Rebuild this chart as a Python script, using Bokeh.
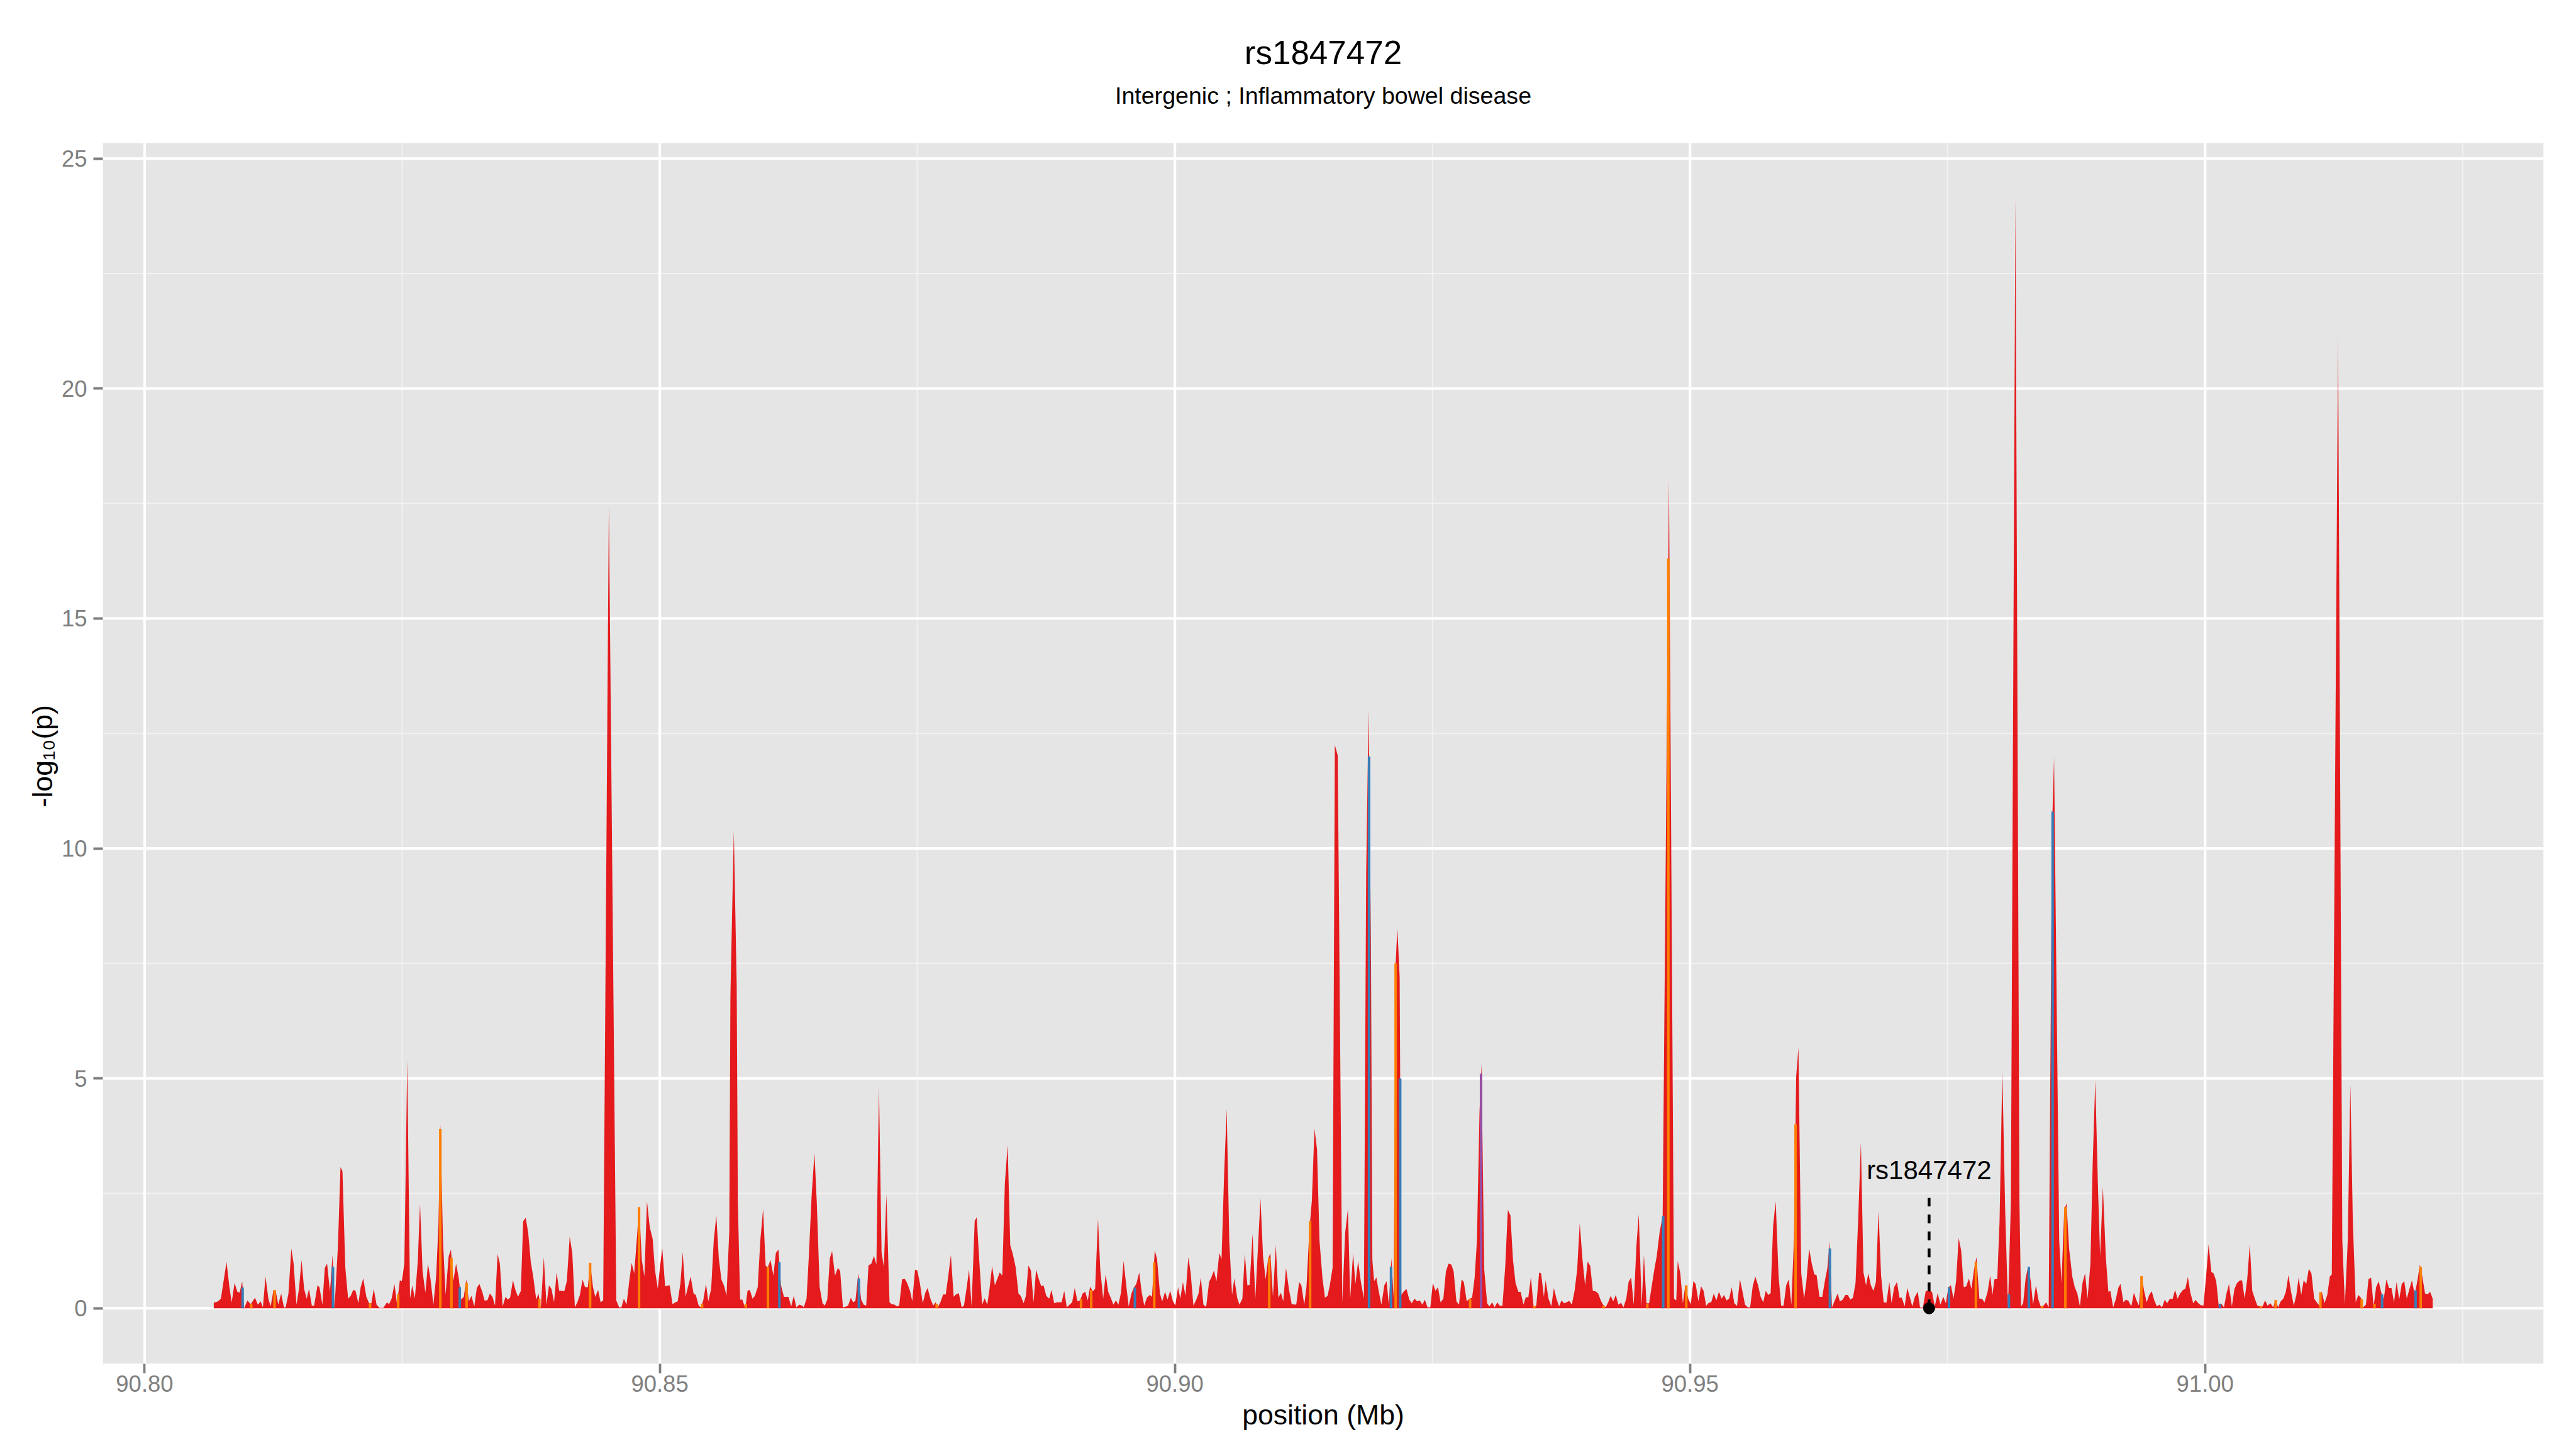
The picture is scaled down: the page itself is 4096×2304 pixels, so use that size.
from bokeh.plotting import figure
from bokeh.models import Range1d, FixedTicker, NumeralTickFormatter, ColumnDataSource
from bokeh.embed import file_html
from bokeh.resources import INLINE
from bokeh.core.properties import value

# ---------------- data ----------------
title_text = "rs1847472"
subtitle_text = "Intergenic ; Inflammatory bowel disease"
x_label = "position (Mb)"
y_label = "-log\u2081\u2080(p)"

x_ticks = [90.80, 90.85, 90.90, 90.95, 91.00]
x_minor = [90.825, 90.875, 90.925, 90.975, 91.025]
y_ticks = [0, 5, 10, 15, 20, 25]
y_minor = [2.5, 7.5, 12.5, 17.5, 22.5]

position_mb = [
    90.80671, 90.80713, 90.80740, 90.80795, 90.80823, 90.80845, 90.80873, 90.80900, 90.80922, 90.80947,
    90.80966, 90.80997, 90.81030, 90.81071, 90.81099, 90.81126, 90.81148, 90.81173, 90.81201, 90.81223,
    90.81250, 90.81270, 90.81297, 90.81325, 90.81352, 90.81369, 90.81396, 90.81424, 90.81446, 90.81474,
    90.81498, 90.81523, 90.81548, 90.81573, 90.81595, 90.81623, 90.81645, 90.81678, 90.81697, 90.81725,
    90.81749, 90.81771, 90.81799, 90.81824, 90.81843, 90.81876, 90.81901, 90.81920, 90.81948, 90.81975,
    90.82000, 90.82025, 90.82047, 90.82075, 90.82097, 90.82122, 90.82152, 90.82179, 90.82201, 90.82224,
    90.82251, 90.82279, 90.82317, 90.82353, 90.82372, 90.82397, 90.82425, 90.82450, 90.82477, 90.82496,
    90.82521, 90.82549, 90.82576, 90.82598, 90.82623, 90.82651, 90.82673, 90.82698, 90.82725, 90.82750,
    90.82775, 90.82803, 90.82830, 90.82852, 90.82871, 90.82896, 90.82921, 90.82951, 90.82973, 90.82996,
    90.83023, 90.83048, 90.83073, 90.83098, 90.83122, 90.83147, 90.83172, 90.83200, 90.83224, 90.83249,
    90.83277, 90.83299, 90.83326, 90.83351, 90.83376, 90.83401, 90.83426, 90.83448, 90.83475, 90.83503,
    90.83525, 90.83547, 90.83575, 90.83599, 90.83624, 90.83652, 90.83674, 90.83699, 90.83723, 90.83748,
    90.83773, 90.83801, 90.83823, 90.83845, 90.83875, 90.83900, 90.83925, 90.83949, 90.83974, 90.83999,
    90.84024, 90.84049, 90.84073, 90.84098, 90.84126, 90.84151, 90.84176, 90.84200, 90.84225, 90.84250,
    90.84275, 90.84302, 90.84324, 90.84352, 90.84374, 90.84402, 90.84426, 90.84451, 90.84506, 90.84578,
    90.84606, 90.84628, 90.84652, 90.84677, 90.84702, 90.84727, 90.84752, 90.84779, 90.84799, 90.84826,
    90.84851, 90.84876, 90.84903, 90.84931,
    90.84953, 90.84981, 90.85003, 90.85025, 90.85052, 90.85096, 90.85124, 90.85152, 90.85174, 90.85201,
    90.85223, 90.85251, 90.85273, 90.85300, 90.85328, 90.85350, 90.85378, 90.85400, 90.85422, 90.85449,
    90.85471, 90.85499, 90.85524, 90.85549, 90.85573, 90.85598, 90.85626, 90.85648, 90.85675, 90.85686,
    90.85719, 90.85747, 90.85758, 90.85780, 90.85802, 90.85830, 90.85852, 90.85874, 90.85901, 90.85923,
    90.85951, 90.85976, 90.86003, 90.86028, 90.86050, 90.86075, 90.86103, 90.86127, 90.86152, 90.86177,
    90.86205, 90.86249, 90.86276, 90.86301, 90.86326, 90.86354, 90.86381, 90.86398, 90.86425, 90.86447,
    90.86475, 90.86502, 90.86524, 90.86552, 90.86580, 90.86602, 90.86626, 90.86651, 90.86673, 90.86701,
    90.86729, 90.86751, 90.86778, 90.86800, 90.86828, 90.86855, 90.86877, 90.86899, 90.86927, 90.86955,
    90.86979, 90.87004, 90.87026, 90.87054, 90.87079, 90.87103, 90.87128, 90.87153, 90.87175, 90.87200,
    90.87230, 90.87252, 90.87280, 90.87302, 90.87324, 90.87352, 90.87379, 90.87401, 90.87429, 90.87451,
    90.87478, 90.87500, 90.87525, 90.87553, 90.87578, 90.87600, 90.87627, 90.87655, 90.87677, 90.87699,
    90.87724, 90.87751, 90.87776, 90.87801, 90.87826, 90.87853, 90.87875, 90.87903, 90.87931, 90.87953,
    90.87980, 90.88002, 90.88027, 90.88057, 90.88077, 90.88101, 90.88129, 90.88154, 90.88179, 90.88201,
    90.88226, 90.88253, 90.88275, 90.88300, 90.88325, 90.88350, 90.88377, 90.88402, 90.88427, 90.88454,
    90.88482, 90.88504, 90.88532, 90.88554, 90.88578, 90.88603, 90.88628, 90.88653, 90.88680, 90.88703,
    90.88725, 90.88752, 90.88780, 90.88802, 90.88829, 90.88854, 90.88879, 90.88901, 90.88926, 90.88951,
    90.88978, 90.89003, 90.89028, 90.89055, 90.89080, 90.89105, 90.89130, 90.89155, 90.89177, 90.89204,
    90.89226, 90.89254,
    90.89276, 90.89304, 90.89328, 90.89353, 90.89381, 90.89403, 90.89428, 90.89452, 90.89477, 90.89502,
    90.89530, 90.89552, 90.89579, 90.89604, 90.89626, 90.89654, 90.89679, 90.89703, 90.89728, 90.89756,
    90.89778, 90.89805, 90.89827, 90.89855, 90.89877, 90.89905, 90.89929, 90.89954, 90.89979, 90.90004,
    90.90031, 90.90053, 90.90078, 90.90103, 90.90131, 90.90153, 90.90180, 90.90205, 90.90230, 90.90252,
    90.90277, 90.90304, 90.90332, 90.90354, 90.90379, 90.90404, 90.90431, 90.90453, 90.90478, 90.90503,
    90.90528, 90.90555, 90.90577, 90.90605, 90.90627, 90.90655, 90.90679, 90.90704, 90.90726, 90.90754,
    90.90781, 90.90806, 90.90831, 90.90856, 90.90881, 90.90905, 90.90927, 90.90952, 90.90980, 90.91005,
    90.91029, 90.91052, 90.91079, 90.91107, 90.91134, 90.91178, 90.91206, 90.91228, 90.91256, 90.91278,
    90.91305, 90.91330, 90.91355, 90.91380, 90.91404, 90.91432, 90.91457, 90.91482, 90.91504, 90.91531,
    90.91553, 90.91581, 90.91625, 90.91653, 90.91680, 90.91702, 90.91730, 90.91752, 90.91779, 90.91807,
    90.91835, 90.91857, 90.91881, 90.91903, 90.91917, 90.91934, 90.91956, 90.91978, 90.92005, 90.92033,
    90.92055, 90.92077, 90.92102, 90.92124, 90.92143, 90.92160, 90.92182, 90.92198, 90.92220, 90.92248,
    90.92276, 90.92300, 90.92325, 90.92353, 90.92378, 90.92402, 90.92427, 90.92452, 90.92480, 90.92504,
    90.92529, 90.92554, 90.92579, 90.92606, 90.92631, 90.92656, 90.92684, 90.92706, 90.92733, 90.92758,
    90.92783, 90.92805, 90.92833, 90.92860, 90.92885, 90.92910, 90.92932, 90.92957, 90.92976, 90.93003,
    90.93031, 90.93053, 90.93081, 90.93103, 90.93130, 90.93155, 90.93180, 90.93207, 90.93232, 90.93257,
    90.93282, 90.93307, 90.93334, 90.93356, 90.93384, 90.93406, 90.93431, 90.93456, 90.93483, 90.93508,
    90.93536, 90.93555, 90.93582,
    90.93599, 90.93627, 90.93654, 90.93679, 90.93704, 90.93729, 90.93753, 90.93778, 90.93803, 90.93828,
    90.93853, 90.93880, 90.93905, 90.93930, 90.93957, 90.93982, 90.94007, 90.94032, 90.94057, 90.94084,
    90.94109, 90.94134, 90.94156, 90.94181, 90.94206, 90.94230, 90.94255, 90.94280, 90.94305, 90.94332,
    90.94354, 90.94382, 90.94404, 90.94429, 90.94454, 90.94481, 90.94503, 90.94531, 90.94553, 90.94578,
    90.94603, 90.94630, 90.94655, 90.94677, 90.94707, 90.94735, 90.94796, 90.94845, 90.94867, 90.94881,
    90.94906, 90.94931, 90.94955, 90.94983, 90.95008, 90.95033, 90.95055, 90.95082, 90.95107, 90.95132,
    90.95157, 90.95182, 90.95206, 90.95231, 90.95256, 90.95281, 90.95308, 90.95330, 90.95355, 90.95380,
    90.95405, 90.95430, 90.95457, 90.95485, 90.95512, 90.95534, 90.95562, 90.95584, 90.95609, 90.95634,
    90.95661, 90.95686, 90.95711, 90.95736, 90.95760, 90.95783, 90.95807, 90.95832, 90.95860, 90.95885,
    90.95909, 90.95934, 90.95959, 90.95984, 90.96009, 90.96031, 90.96053, 90.96080, 90.96108, 90.96130,
    90.96157, 90.96182, 90.96207, 90.96229, 90.96257, 90.96284, 90.96309, 90.96334, 90.96356, 90.96378,
    90.96406, 90.96433, 90.96455, 90.96483, 90.96508, 90.96532, 90.96557, 90.96582, 90.96607, 90.96632,
    90.96659, 90.96684, 90.96709, 90.96731, 90.96756, 90.96781, 90.96805, 90.96830, 90.96855, 90.96880,
    90.96907, 90.96935, 90.96957, 90.96982, 90.97009, 90.97034, 90.97056, 90.97084, 90.97109, 90.97133,
    90.97158, 90.97183, 90.97211, 90.97233, 90.97260, 90.97288, 90.97321, 90.97349, 90.97376, 90.97404,
    90.97431, 90.97459, 90.97484, 90.97508, 90.97533, 90.97558, 90.97583, 90.97608, 90.97632, 90.97657,
    90.97682, 90.97707, 90.97732, 90.97757, 90.97781, 90.97809, 90.97834, 90.97859, 90.97889, 90.97914,
    90.97936, 90.97955, 90.97983, 90.98005, 90.98032, 90.98060, 90.98087, 90.98115, 90.98159, 90.98198,
    90.98214, 90.98234, 90.98258, 90.98283, 90.98308, 90.98330, 90.98358, 90.98382, 90.98407, 90.98432,
    90.98457, 90.98482, 90.98515, 90.98534, 90.98584, 90.98606, 90.98633, 90.98655, 90.98680, 90.98711,
    90.98735, 90.98760, 90.98785, 90.98810, 90.98835, 90.98859, 90.98887, 90.98909, 90.98934, 90.98959,
    90.98981, 90.99008, 90.99036, 90.99061, 90.99080, 90.99108, 90.99135, 90.99157, 90.99179, 90.99207,
    90.99232, 90.99256, 90.99284, 90.99309, 90.99334, 90.99358, 90.99383, 90.99408, 90.99433, 90.99458,
    90.99482, 90.99507, 90.99532, 90.99557, 90.99582, 90.99609, 90.99631, 90.99659, 90.99684, 90.99709,
    90.99733, 90.99758, 90.99786, 90.99808, 90.99833, 90.99857, 90.99885, 90.99907, 90.99935, 90.99957,
    90.99984, 91.00009, 91.00034, 91.00061, 91.00083, 91.00108, 91.00133, 91.00155, 91.00183, 91.00208,
    91.00232, 91.00260, 91.00285, 91.00310, 91.00334, 91.00359, 91.00384, 91.00409, 91.00434, 91.00458,
    91.00486, 91.00508, 91.00536, 91.00558, 91.00582, 91.00607, 91.00635, 91.00660, 91.00685, 91.00709,
    91.00734, 91.00759, 91.00784, 91.00809, 91.00833, 91.00861, 91.00886, 91.00908, 91.00933, 91.00957,
    91.00982, 91.01007, 91.01032, 91.01059, 91.01084, 91.01109, 91.01131, 91.01159, 91.01186, 91.01211,
    91.01230, 91.01291, 91.01332, 91.01357, 91.01385, 91.01410, 91.01434, 91.01462, 91.01487, 91.01512,
    91.01536, 91.01561, 91.01586, 91.01611, 91.01636, 91.01660, 91.01685, 91.01710, 91.01735, 91.01760,
    91.01785, 91.01809, 91.01834, 91.01859, 91.01884, 91.01909, 91.01933, 91.01958, 91.01986, 91.02008,
    91.02035, 91.02063, 91.02085, 91.02107, 91.02135, 91.02159, 91.02184, 91.02209,
]

neg_log10_p = [
    0.12, 0.15, 0.21, 1.01, 0.46, 0.13, 0.55, 0.36, 0.34, 0.59,
    0.00, 0.17, 0.09, 0.23, 0.08, 0.15, 0.02, 0.69, 0.21, 0.04,
    0.39, 0.40, 0.08, 0.32, 0.02, 0.02, 0.32, 1.30, 0.97, 0.08,
    0.42, 1.05, 0.42, 0.21, 0.42, 0.06, 0.06, 0.50, 0.46, 0.08,
    0.88, 0.97, 0.36, 1.16, 0.00, 1.34, 3.07, 2.98, 0.88, 0.21,
    0.27, 0.40, 0.38, 0.11, 0.46, 0.65, 0.25, 0.11, 0.11, 0.42,
    0.08, 0.01, 0.01, 0.13, 0.09, 0.21, 0.53, 0.08, 0.61, 0.59,
    0.97, 5.40, 0.21, 0.50, 0.21, 1.01, 2.27, 0.80, 0.34, 0.97,
    0.63, 0.08, 0.71, 1.81, 4.00, 1.47, 0.29, 1.13, 1.28, 0.59,
    0.97, 0.67, 0.19, 0.25, 0.63, 0.15, 0.27, 0.04, 0.44, 0.53,
    0.36, 0.17, 0.17, 0.32, 0.25, 0.06, 1.18, 0.97, 0.04, 0.25,
    0.19, 0.23, 0.61, 0.40, 0.25, 0.38, 1.89, 1.97, 1.64, 1.01,
    0.67, 0.19, 0.32, 0.00, 1.11, 0.08, 0.50, 0.42, 0.13, 0.78,
    0.38, 0.38, 0.37, 0.59, 1.56, 1.20, 0.02, 0.13, 0.29, 0.63,
    0.46, 0.46, 0.99, 0.46, 0.25, 0.40, 0.13, 0.17, 17.49, 0.17,
    0.02, 0.02, 0.21, 0.08, 0.55, 0.99, 0.76, 1.55, 2.23, 1.05,
    0.69, 2.33, 1.76, 1.51,
    0.84, 0.42, 0.92, 1.30, 0.48, 0.50, 0.09, 0.13, 0.15, 0.55,
    1.22, 0.25, 0.46, 0.69, 0.32, 0.29, 0.06, 0.02, 0.17, 0.53,
    0.15, 0.42, 1.47, 2.02, 1.09, 0.63, 0.48, 0.27, 1.68, 6.80,
    10.37, 7.00, 2.31, 0.19, 0.19, 0.00, 0.38, 0.40, 0.21, 0.27,
    0.46, 1.47, 2.16, 0.92, 0.90, 1.05, 0.71, 1.20, 1.28, 0.50,
    0.25, 0.25, 0.04, 0.27, 0.02, 0.08, 0.06, 0.02, 0.21, 1.13,
    2.48, 3.37, 2.31, 0.46, 0.11, 0.06, 0.19, 1.09, 1.24, 0.71,
    0.88, 0.81, 0.02, 0.03, 0.06, 0.23, 0.13, 0.16, 0.76, 0.19,
    0.08, 0.06, 0.93, 0.97, 1.14, 0.95, 4.83, 1.22, 0.90, 2.48,
    0.13, 0.09, 0.08, 0.04, 0.06, 0.63, 0.64, 0.55, 0.38, 0.15,
    0.84, 0.82, 0.55, 0.11, 0.34, 0.44, 0.21, 0.06, 0.13, 0.02,
    0.13, 0.30, 0.30, 0.71, 1.16, 0.25, 0.30, 0.33, 0.02, 0.06,
    0.46, 0.84, 0.04, 1.90, 1.98, 1.05, 0.08, 0.22, 0.08, 0.42,
    0.92, 0.50, 0.63, 0.78, 0.71, 2.73, 3.55, 1.37, 1.18, 0.90,
    0.32, 0.27, 0.11, 0.27, 0.93, 0.82, 0.13, 0.84, 0.63, 0.48,
    0.50, 0.27, 0.21, 0.40, 0.11, 0.13, 0.13, 0.13, 0.38, 0.02,
    0.08, 0.13, 0.44, 0.15, 0.17, 0.32, 0.36, 0.17, 0.47, 0.37,
    0.42, 1.95,
    0.84, 0.21, 0.74, 0.36, 0.21, 0.08, 0.17, 0.08, 0.34, 1.03,
    0.46, 0.04, 0.32, 0.46, 0.53, 0.78, 0.34, 0.06, 0.23, 0.29,
    0.25, 1.26, 1.07, 0.32, 0.15, 0.36, 0.19, 0.38, 0.17, 0.06,
    0.46, 0.21, 0.57, 0.27, 1.11, 0.78, 0.06, 0.17, 0.32, 0.67,
    0.08, 0.03, 0.57, 0.67, 0.82, 0.59, 1.20, 1.07, 2.90, 4.34,
    1.47, 0.29, 0.65, 0.23, 0.08, 0.21, 1.18, 0.50, 0.51, 1.62,
    0.21, 1.30, 2.39, 1.13, 0.63, 1.07, 1.20, 0.25, 1.37, 0.23,
    0.34, 0.15, 0.88, 0.42, 0.09, 0.08, 0.57, 0.50, 0.08, 0.48,
    1.68, 2.35, 3.91, 3.45, 1.47, 0.67, 0.23, 0.27, 0.50, 0.88,
    12.25, 12.02, 0.13, 1.64, 2.16, 0.21, 1.20, 0.53, 1.02, 0.55,
    0.21, 9.50, 13.02, 8.00, 1.05, 0.59, 0.67, 0.38, 0.08, 0.50,
    0.59, 0.08, 1.09, 0.21, 7.50, 8.26, 7.20, 0.29, 0.36, 0.42,
    0.19, 0.11, 0.21, 0.15, 0.17, 0.08, 0.19, 0.02, 0.02, 0.55,
    0.38, 0.46, 0.13, 0.21, 0.80, 0.97, 0.95, 0.80, 0.15, 0.08,
    0.63, 0.57, 0.15, 0.21, 0.23, 0.67, 1.47, 4.24, 5.32, 0.84,
    0.11, 0.04, 0.13, 0.02, 0.13, 0.05, 0.06, 0.92, 2.14, 2.02,
    1.05, 0.55, 0.36, 0.36, 0.08, 0.24, 0.24, 0.68, 0.01, 0.06,
    0.78, 0.76, 0.25,
    0.61, 0.21, 0.04, 0.44, 0.21, 0.04, 0.17, 0.11, 0.13, 0.16,
    0.08, 0.38, 0.84, 1.85, 1.05, 0.50, 1.02, 0.92, 0.38, 0.37,
    0.32, 0.17, 0.08, 0.02, 0.13, 0.27, 0.15, 0.29, 0.08, 0.12,
    0.02, 0.21, 0.57, 0.67, 0.08, 1.39, 2.04, 0.06, 1.16, 0.11,
    0.11, 0.50, 0.86, 1.13, 1.68, 2.00, 18.03, 0.21, 0.17, 1.03,
    0.76, 0.11, 0.50, 0.21, 0.09, 0.59, 0.53, 0.15, 0.48, 0.38,
    0.05, 0.12, 0.13, 0.32, 0.17, 0.36, 0.21, 0.29, 0.17, 0.21,
    0.46, 0.11, 0.05, 0.63, 0.34, 0.08, 0.02, 0.02, 0.48, 0.69,
    0.50, 0.25, 0.13, 0.38, 0.29, 0.33, 1.79, 2.33, 0.71, 0.06,
    0.06, 0.50, 0.63, 0.08, 1.47, 5.04, 5.67, 0.76, 0.21, 0.59,
    1.30, 0.97, 0.74, 0.72, 0.25, 0.25, 0.59, 0.88, 1.45, 0.02,
    0.17, 0.32, 0.15, 0.19, 0.29, 0.29, 0.19, 0.23, 0.55, 1.89,
    3.61, 0.78, 0.50, 0.76, 0.50, 0.38, 0.57, 2.12, 0.71, 0.13,
    0.12, 0.57, 0.11, 0.46, 0.57, 0.23, 0.23, 0.04, 0.44, 0.25,
    0.04, 0.25, 0.36, 0.02, 0.01, 0.37, 0.39, 0.36, 0.04, 0.33,
    0.08, 0.25, 0.11, 0.46, 0.50, 0.21, 0.59, 1.53, 1.26, 0.46,
    0.48, 0.65, 0.42, 0.84, 1.11, 0.21, 0.21, 0.13, 0.36, 0.71,
    0.29, 0.63, 0.64, 1.89, 5.15, 2.10, 0.02, 2.31, 24.13, 2.31,
    0.04, 0.11, 0.65, 0.92, 0.59, 0.08, 0.50, 0.19, 0.02, 0.06,
    0.13, 0.02, 10.50, 11.98, 1.47, 0.55, 2.14, 2.28, 1.30, 0.69,
    0.46, 0.32, 0.04, 0.55, 0.76, 0.21, 0.97, 3.15, 4.96, 2.73,
    1.13, 2.64, 1.13, 0.36, 0.38, 0.02, 0.21, 0.44, 0.53, 0.13,
    0.19, 0.16, 0.04, 0.34, 0.17, 0.06, 0.72, 0.38, 0.13, 0.29,
    0.37, 0.17, 0.04, 0.08, 0.02, 0.19, 0.11, 0.21, 0.20, 0.40,
    0.21, 0.32, 0.40, 0.42, 0.68, 0.34, 0.11, 0.18, 0.11, 0.07,
    0.06, 0.67, 1.39, 0.79, 0.76, 0.59, 0.04, 0.11, 0.02, 0.32,
    0.53, 0.04, 0.42, 0.55, 0.60, 0.61, 0.21, 0.63, 1.39, 0.38,
    0.19, 0.06, 0.04, 0.04, 0.17, 0.06, 0.11, 0.02, 0.18, 0.02,
    0.15, 0.21, 0.36, 0.72, 0.38, 0.06, 0.29, 0.67, 0.29, 0.61,
    0.53, 0.86, 0.76, 0.21, 0.13, 0.06, 0.37, 0.11, 0.29, 0.69,
    0.74, 21.14, 1.47, 0.08, 1.47, 4.87, 1.89, 0.13, 0.29, 0.23,
    0.02, 0.08, 0.63, 0.67, 0.04, 0.46, 0.59, 0.34, 0.21, 0.63,
    0.44, 0.44, 0.13, 0.57, 0.19, 0.53, 0.59, 0.21, 0.44, 0.61,
    0.29, 0.63, 0.95, 0.71, 0.32, 0.30, 0.36, 0.21,
]

# SNPs of other annotation classes (drawn over the red area)
blue_pos = [90.80951, 90.81828, 90.83059, 90.86161, 90.86933, 90.89612, 90.91885, 90.92098, 90.92187,
            90.94740, 90.96358, 90.97514, 90.98096, 90.98289, 90.98520, 91.00144, 91.01718, 91.02043]
blue_val = [0.45, 0.90, 0.46, 1.00, 0.65, 0.45, 12.00, 0.90, 5.00,
            2.00, 1.30, 0.46, 0.30, 0.90, 10.80, 0.10, 0.30, 0.39]
orange_pos = [90.81035, 90.81261, 90.82188, 90.82461, 90.82870, 90.82978, 90.83125, 90.83831, 90.84324,
              90.84799, 90.85411, 90.85835, 90.86050, 90.87688, 90.89089, 90.89188, 90.89800, 90.90916,
              90.91313, 90.92143, 90.92866, 90.93489, 90.94161, 90.94586, 90.94790, 90.94964, 90.96025,
              90.97775, 90.98418, 90.98644, 90.99383, 91.00541, 91.00685, 91.01120, 91.01520, 91.01644,
              91.02093]
orange_val = [0.09, 0.40, 0.11, 0.30, 3.90, 1.10, 0.55, 0.20, 0.99,
              2.20, 0.10, 0.10, 0.90, 0.10, 0.20, 0.40, 1.00, 1.10,
              1.90, 7.50, 0.20, 0.05, 0.05, 0.10, 16.30, 0.50, 4.00,
              1.00, 0.05, 2.20, 0.70, 0.05, 0.18, 0.35, 0.20, 0.10,
              0.90]
purple_pos = [90.92972]
purple_val = [5.10]

snp_name = "rs1847472"
snp_pos = 90.97321
snp_val = 0.0
snp_line_top = 2.4
snp_label_y = 3.0

# ---------------- layout (pixels) ----------------
FONT = "Liberation Sans"
PANEL_W, PANEL_H = 3881, 1941      # grey panel size
HEADER_H = 227                     # space above the panel (title area)
TITLE_FROM_TOP = 83                # centre of title, px below the top
SUBTITLE_FROM_TOP = 151            # centre of subtitle, px below the top
# the y-axis title is centred on the whole frame (panel + header); trailing
# no-break spaces move its visible part down to the centre of the panel
Y_LABEL_PAD = "\u00a0" * 19

xmin, xmax = min(position_mb), max(position_mb)
xpad = 0.05 * (xmax - xmin)
x_lo, x_hi = xmin - xpad, xmax + xpad
ymax = max(neg_log10_p)
ypad = 0.05 * ymax
y_lo, y_hi = -ypad, ymax + ypad
unit = (y_hi - y_lo) / PANEL_H     # data units per pixel (vertical)
y_top = y_hi + HEADER_H * unit     # the frame reaches up over the title area

p = figure(frame_width=PANEL_W, frame_height=PANEL_H + HEADER_H,
           output_backend="svg", toolbar_location=None,
           x_range=Range1d(x_lo, x_hi), y_range=Range1d(y_lo, y_top),
           min_border_left=163, min_border_right=36,
           min_border_top=0, min_border_bottom=120)

p.background_fill_color = "white"
p.border_fill_color = "white"
p.outline_line_color = None
p.xgrid.visible = False
p.ygrid.visible = False

p.xaxis.ticker = FixedTicker(ticks=x_ticks)
p.yaxis.ticker = FixedTicker(ticks=y_ticks)
p.xaxis.formatter = NumeralTickFormatter(format="0.00")
p.yaxis.bounds = (y_lo, y_hi)

for ax in (p.xaxis, p.yaxis):
    ax.axis_line_color = None
    ax.major_tick_line_color = "#7F7F7F"
    ax.major_tick_line_width = 3.8
    ax.major_tick_out = 15
    ax.major_tick_in = 0
    ax.minor_tick_line_color = None
    ax.major_label_text_color = "#7F7F7F"
    ax.major_label_text_font = FONT
    ax.major_label_text_font_size = "36.5px"
    ax.axis_label_text_font = FONT
    ax.axis_label_text_font_size = "44.6px"
    ax.axis_label_text_font_style = "normal"
    ax.axis_label_text_color = "black"

p.xaxis.axis_label = x_label
p.yaxis.axis_label = y_label + Y_LABEL_PAD
p.xaxis.major_label_standoff = 3
p.xaxis.axis_label_standoff = 9
p.yaxis.major_label_standoff = 10
p.yaxis.axis_label_standoff = 3

# grey panel and its grid
p.quad(left=[x_lo], right=[x_hi], bottom=[y_lo], top=[y_hi],
       fill_color="#E5E5E5", line_color=None)
p.segment(x0=x_minor, y0=[y_lo] * len(x_minor), x1=x_minor, y1=[y_hi] * len(x_minor),
          line_color="#F2F2F2", line_width=2.0, line_cap="butt")
p.segment(x0=[x_lo] * len(y_minor), y0=y_minor, x1=[x_hi] * len(y_minor), y1=y_minor,
          line_color="#F2F2F2", line_width=2.0, line_cap="butt")
p.segment(x0=x_ticks, y0=[y_lo] * len(x_ticks), x1=x_ticks, y1=[y_hi] * len(x_ticks),
          line_color="white", line_width=4.2, line_cap="butt")
p.segment(x0=[x_lo] * len(y_ticks), y0=y_ticks, x1=[x_hi] * len(y_ticks), y1=y_ticks,
          line_color="white", line_width=4.2, line_cap="butt")

src = ColumnDataSource(dict(pos=position_mb, val=neg_log10_p))
p.varea(x="pos", y1=0, y2="val", source=src, fill_color="#E41A1C", fill_alpha=1.0)

for xs, vs, col in ((orange_pos, orange_val, "#FF7F00"),
                    (blue_pos, blue_val, "#377EB8"),
                    (purple_pos, purple_val, "#984EA3")):
    s = ColumnDataSource(dict(pos=xs, val=vs))
    p.segment(x0="pos", y0=0, x1="pos", y1="val", source=s,
              line_color=col, line_width=4, line_cap="butt")

p.segment(x0=[snp_pos], y0=[snp_val], x1=[snp_pos], y1=[snp_line_top],
          line_color="black", line_width=4.5, line_dash="14 13")
p.scatter(x=[snp_pos], y=[snp_val], size=18, fill_color="black", line_color="black")
p.text(x=[snp_pos], y=[snp_label_y], text=[snp_name], text_align="center",
       text_baseline="middle", text_font=value(FONT), text_font_size="42px",
       text_color="black")

# title and subtitle, centred over the panel
x_mid = (x_lo + x_hi) / 2
p.text(x=[x_mid], y=[y_top - TITLE_FROM_TOP * unit], text=[title_text],
       text_align="center", text_baseline="middle", text_font=value(FONT),
       text_font_size="53px", text_color="black")
p.text(x=[x_mid], y=[y_top - SUBTITLE_FROM_TOP * unit], text=[subtitle_text],
       text_align="center", text_baseline="middle", text_font=value(FONT),
       text_font_size="37.6px", text_color="black")

open("out.html", "w").write(file_html(p, INLINE))
